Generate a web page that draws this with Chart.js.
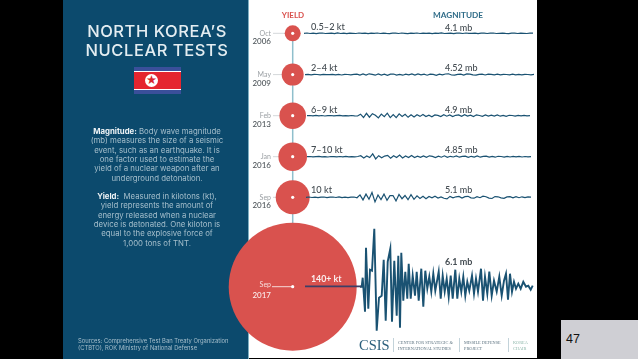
<!DOCTYPE html>
<html>
<head>
<meta charset="utf-8">
<title>North Korea's Nuclear Tests</title>
<script src="https://cdn.jsdelivr.net/npm/chart.js@4/dist/chart.umd.min.js"></script>
<style>
	html, body { margin: 0; padding: 0; width: 638px; height: 359px; overflow: hidden; background: #000; }
	body { position: relative; font-family: Inter, sans-serif; }
	.sheet { position: absolute; left: 249px; top: 0; width: 288px; height: 358px; background: #fff; }
	.panel { position: absolute; left: 63px; top: 0; width: 185px; height: 359px; background: #0c4a6d; border-right: 1px solid #7fb0c2; }
	.wrap { position: absolute; left: 0; top: 0; width: 638px; height: 359px; }
	.txt { position: absolute; white-space: nowrap; text-align: center; filter: blur(0.3px); }
	.title { left: 63px; width: 188px; top: 22px; font-size: 16.5px; line-height: 18.8px; font-weight: 500; letter-spacing: 0.55px; color: #e4edf1; }
	.body { left: 67px; width: 180px; font-size: 7.8px; line-height: 9.35px; color: #a6bfcc; }
	.body b { color: #eef3f6; }
	.src { left: 78px; top: 337px; text-align: left; font-size: 5.83px; line-height: 7.2px; color: #a6bfcc; }
	.flag { position: absolute; left: 134px; top: 67px; width: 47px; height: 27px; background: #3a4f9a; }
	.flag i { position: absolute; left: 0; width: 47px; top: 4px; height: 19px; background: #fff; }
	.flag u { position: absolute; left: 0; width: 47px; top: 5px; height: 17px; background: #e5252f; }
	.flag s { position: absolute; left: 11px; top: 7px; width: 13px; height: 13px; border-radius: 50%; background: #fff; color: #d8262e; font-size: 11px; line-height: 13px; text-align: center; text-decoration: none; }
	.csis { left: 359px; top: 337px; font-family: "Liberation Serif", serif; font-size: 14.5px; line-height: 17px; color: #2b5f7c; }
	.org { top: 340px; text-align: left; font-family: "Liberation Serif", serif; font-size: 4.3px; line-height: 6.4px; color: #5d7380; }
	.rule { position: absolute; top: 338px; width: 1px; height: 14px; background: #c3d3da; }
	.page { position: absolute; left: 561px; top: 320px; width: 77px; height: 39px; background: #cfcfd4; color: #111; font-family: "Liberation Sans", sans-serif; font-size: 12.5px; line-height: 39px; text-indent: 5px; }
</style>
</head>
<body>
<div class="sheet"></div>
<div class="panel"></div>

<div class="txt title">NORTH KOREA’S<br>NUCLEAR TESTS</div>
<div class="flag"><i></i><u></u><s>★</s></div>
<div class="txt body" style="top:127px"><b>Magnitude:</b> Body wave magnitude<br>(mb) measures the size of a seismic<br>event, such as an earthquake. It is<br>one factor used to estimate the<br>yield of a nuclear weapon after an<br>underground detonation.</div>
<div class="txt body" style="top:192px"><b>Yield:</b>&nbsp; Measured in kilotons (kt),<br>yield represents the amount of<br>energy released when a nuclear<br>device is detonated. One kiloton is<br>equal to the explosive force of<br>1,000 tons of TNT.</div>
<div class="txt src">Sources: Comprehensive Test Ban Treaty Organization<br>(CTBTO), ROK Ministry of National Defense</div>

<div class="wrap"><canvas id="chart-nuclear-tests"></canvas></div>

<div class="txt csis">CSIS</div>
<div class="rule" style="left:393px"></div>
<div class="txt org" style="left:398px">CENTER FOR STRATEGIC &amp;<br>INTERNATIONAL STUDIES</div>
<div class="rule" style="left:459px"></div>
<div class="txt org" style="left:464px">MISSILE DEFENSE<br>PROJECT</div>
<div class="rule" style="left:508px"></div>
<div class="txt org" style="left:513px;color:#8fb8ac">KOREA<br>CHAIR</div>
<div class="page">47</div>

<script>
const MONTHS = ["Oct", "May", "Feb", "Jan", "Sep", "Sep"];
const YEARS = ["2006", "2009", "2013", "2016", "2016", "2017"];
const YIELDS = ["0.5–2 kt", "2–4 kt", "6–9 kt", "7–10 kt", "10 kt", "140+ kt"];
const MAGNITUDES = ["4.1 mb", "4.52 mb", "4.9 mb", "4.85 mb", "5.1 mb", "6.1 mb"];
const BUBBLE_SIZES = [8, 11, 13.3, 14.3, 17, 64];

// seismograms, deflection
const TRACE_OCT_2006 = [0,.3,-.2,.2,-.3,.1,.3,-.2,0,.2,-.4,.5,-.2,.1,-.3,.2,0,-.2,.3,-.1,.2,-.3,.1,0,.3,-.2,.2,-.1,-.3,.2,.1,-.2,.3,0,-.3,.2,-.1,.3,-.2,.1,0,.2,-.3,.2,-.1,.4,-.2,0,.2,-.3,.1,.2,-.2,.3,-.1,0,.2,-.3,.1,.2,-.2,.1,.3,-.2,0,.2,-.1,-.3,.2,.1,-.2,.2,0,-.2,.1,.2];
const TRACE_MAY_2009 = [0,.2,-.3,.2,.1,-.2,.3,-.1,0,.3,-.2,.2,-.4,.3,.1,-.3,.2,.5,-.4,.6,-.5,.8,.3,-.6,.7,-.4,.5,-.7,.4,.6,-.5,.3,-.6,.4,-.3,.6,-.5,.7,-.3,.4,-.6,.5,.2,-.7,.5,-.3,.6,.8,-.4,-.6,.3,.5,-.5,.7,.4,-.3,-.5,.3,.4,-.4,.5,.3,-.3,.4,-.2,.3,.1,-.3,.4,-.2,.2,-.3,.2,.1,-.2,.2];
const TRACE_FEB_2013 = [0,.2,-.2,.3,-.1,.2,-.3,.1,.2,-.2,.1,.3,-.2,.1,-.2,.2,-.1,-.3,1.5,-1.8,2.4,-1.5,2,.5,-2.2,1.6,-1,2.5,-1.9,1.2,-2,1.8,-.8,1.4,-1.6,1,-1.2,.9,-.7,1.2,-.9,.6,-1,.8,.3,-.8,1,-.5,.7,-.9,.4,.8,-.6,1,-.4,.5,-.8,.9,.2,-.6,.7,-.4,.5,-.3,.8,-.5,.3,-.6,.4,.2,-.5,.3,-.2,.4,-.2,.1];
const TRACE_JAN_2016 = [0,.2,-.2,.1,.3,-.2,.1,-.3,.2,.1,-.2,.2,-.1,.3,-.2,.1,-.2,.2,1,-1.2,.8,-.9,2.8,-2.2,1,-1.1,.6,1.4,-1.5,.9,-.8,1.6,-1.3,.7,-.9,1.2,-.8,.5,-.7,.8,-.6,.9,.3,-.8,.6,-.5,.9,-.7,.4,-.3,.7,-.5,.3,.6,-.6,.4,-.4,.7,-.5,.3,.5,-.4,.3,-.5,.4,.2,-.4,.3,-.3,.4,-.2,.3,-.3,.2,-.1,.1];
const TRACE_SEP_2016 = [0,.3,-.2,.2,-.4,.2,.3,-.3,.1,.3,-.2,.4,-.3,.2,-.4,.1,.3,-.5,2.4,-2.6,3.2,-2,4.8,-4.6,2.4,-2.2,3.2,-3,1.6,1.8,-3.6,2.8,-1.4,1.8,-2.4,2.6,-2,1.4,-1.2,1,-1.4,.8,-.6,1,-.7,.4,-1,-1.6,.9,-.6,.5,.9,-.7,.6,1,-.5,-.9,.7,-.4,1.2,.6,-.8,-1.2,.7,.5,-.6,-1,.4,.7,-.5,.6,-.4,.5,-.3,.4,.2];

const TRACE_SEP_2017_TIME = [0,1.7,2.7,5,6,8.3,10,12,14.3,16.7,19,21.7,23.7,25.7,27.7,30.3,32,34.3,36.7,38.3,40,41.3,43.3,45.3,47.3,48.7,50.7,52.7,55,56.7,58.7,61.3,63.3,65.3,67.3,69.3,71.3,73.3,75.3,78.7,80.7,82.7,84.7,86.7,88.7,90.7,92.7,95.3,97.3,99.3,101.3,103.3,105.3,107.3,109.3,112,114,116,118,121,123,125,127.3,129.3,131.7,134,136.7,139.3,141.7,144,146,148,150,152,154,156,158.3,160.7,163.3,166,168.3,170.7,172.7];
const TRACE_SEP_2017 = [0,0,9,-25,39,-22,17,16,58,-44,-11,-9,27,-34,25,38,-35,26,-29,31,-41,34,-14,15,-12,23,-12,11,-9,15,-14,18,-20,16,-2,10,-5,13,-4,15,-12,11,-5,8,-10,11,-12,17,-12,8,-5,10,-9,5,-4,11,-7,8,-5,18,-14,10,-7,15,-9,6,-5,10,-9,6,13,-13,13,-5,5,-2,3,-2,5,0,1,-3,1];

const TRACES = [TRACE_OCT_2006, TRACE_MAY_2009, TRACE_FEB_2013, TRACE_JAN_2016, TRACE_SEP_2016];

// ----------------------------------------------
// Layout of the sheet, in page pixels
// ----------------------------------------------
const AXIS_X = 292.7;
const ROWS_Y = [33.3, 74.6, 115.7, 156.7, 197.3, 286.7];
const TRACE_LEFT = [304, 305, 307, 307, 306];
const TRACE_RIGHT = [533, 534, 530, 531, 531];
const YIELD_LABEL_Y = [27, 68, 110, 150, 190, 279];
const MAG_LABEL_Y = [28, 68, 110, 150, 190, 262];
const LAST_TRACE_X = 360;
const INK = "#1a5272";
const RED = "#d9524e";

const traceData = (values, i) => {
	const step = (TRACE_RIGHT[i] - TRACE_LEFT[i]) / (values.length - 1);
	return values.map((v, n) => ({ x: TRACE_LEFT[i] + n * step, y: ROWS_Y[i] - v }));
};

const lineSet = (data, color, width, order) => ({
	type: "line",
	data,
	borderColor: color,
	borderWidth: width,
	pointRadius: 0,
	tension: 0,
	order,
});

const datasets = [
	// timeline stem
	lineSet([{ x: AXIS_X, y: ROWS_Y[0] }, { x: AXIS_X, y: ROWS_Y[4] + 30 }], "#8fbfcc", 1.5, 5),
	// bubbles sized by yield
	{
		type: "bubble",
		data: BUBBLE_SIZES.map((r, i) => ({ x: AXIS_X, y: ROWS_Y[i], r })),
		backgroundColor: RED,
		borderWidth: 0,
		order: 3,
	},
	// white centre dots
	{
		type: "bubble",
		data: ROWS_Y.map((y) => ({ x: AXIS_X, y, r: 1.6 })),
		backgroundColor: "#fff",
		borderWidth: 0,
		order: 0,
	},
	// 2017 white date leader
	lineSet([{ x: 272, y: ROWS_Y[5] }, { x: AXIS_X, y: ROWS_Y[5] }], "#f5d9d8", 1, 1),
	// 2017 trace with its lead in
	lineSet([{ x: 305, y: ROWS_Y[5] - 0.3 }, { x: LAST_TRACE_X + 1, y: ROWS_Y[5] - 0.3 }], "#3d3f66", 1.6, 2),
	lineSet(TRACE_SEP_2017.map((v, n) => ({ x: LAST_TRACE_X + TRACE_SEP_2017_TIME[n], y: ROWS_Y[5] - v })), INK, 1.9, 2),
];

TRACES.forEach((values, i) => {
	datasets.push(lineSet([{ x: 273, y: ROWS_Y[i] }, { x: AXIS_X, y: ROWS_Y[i] }], "#d4d8da", 1, 4));
	datasets.push(lineSet(traceData(values, i), INK, 1.2, 2));
});

// ----------------------------------------------
// Row labels
// ----------------------------------------------
const rowLabels = {
	id: "rowLabels",
	afterDatasetsDraw(chart) {
		const { ctx, scales: { x, y } } = chart;
		const put = (text, px, py, font, color, align) => {
			ctx.font = font;
			ctx.fillStyle = color;
			ctx.textAlign = align || "left";
			ctx.textBaseline = "middle";
			ctx.fillText(text, x.getPixelForValue(px), y.getPixelForValue(py));
		};
		ctx.save();
		put("YIELD", 293, 15, "700 8px Lato", RED, "center");
		put("MAGNITUDE", 458, 15, "700 8.2px Lato", "#2f6c88", "center");
		YIELDS.forEach((label, i) => {
			const last = i === YIELDS.length - 1;
			put(label, 311, YIELD_LABEL_Y[i], `${last ? 700 : 500} ${last ? 8.8 : 9.2}px Lato`, last ? "#fbeeee" : "#444c52");
			put(MAGNITUDES[i], 445, MAG_LABEL_Y[i], `${last ? 700 : 500} 9px Lato`, "#444c52");
			put(MONTHS[i], 271, ROWS_Y[i] - (last ? 2 : 0), "400 7px Lato", last ? "#f6dcdb" : "#9a9fa3", "right");
			put(YEARS[i], 271, ROWS_Y[i] + 8.6, "500 8px Lato", last ? "#fbeeee" : "#4f565b", "right");
		});
		ctx.restore();
	},
};

const CHART_WRAPPER = document.getElementById("chart-nuclear-tests");

new Chart(CHART_WRAPPER, {
	type: "scatter",
	data: { datasets },
	options: {
		animation: false,
		responsive: true,
		maintainAspectRatio: false,
		layout: { padding: 0, autoPadding: false },
		plugins: {
			legend: { display: false },
			title: { display: false },
			tooltip: { enabled: false },
		},
		scales: {
			x: { type: "linear", min: 0, max: 638, display: false },
			y: { type: "linear", min: 0, max: 359, reverse: true, display: false },
		},
	},
	plugins: [rowLabels],
});
</script>
</body>
</html>
